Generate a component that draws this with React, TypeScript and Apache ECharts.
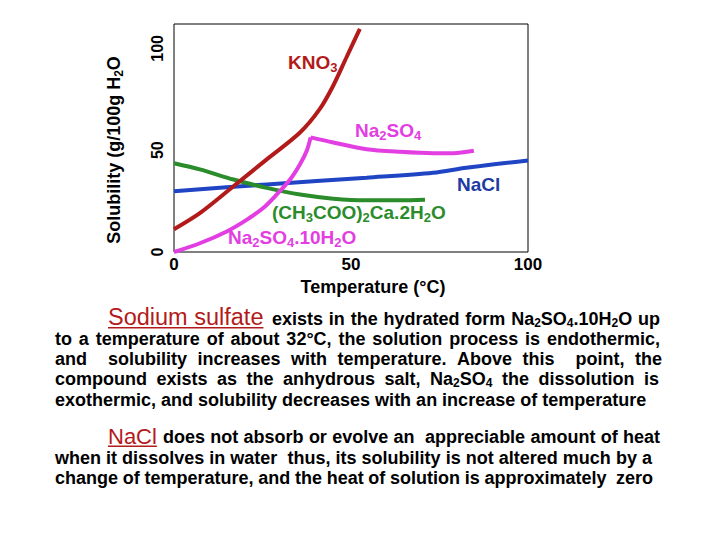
import React, { useEffect, useRef } from 'react';
import * as echarts from 'echarts';

const FONT = '"Liberation Sans", Arial, sans-serif';

// Temperature (°C) / solubility (g per 100 g water)
const kno3X = [0, 7.3, 16.8, 26.2, 35.6, 41.2, 45, 48.8, 52.5];
const kno3Y = [11.2, 19.1, 32.3, 45.5, 58.7, 70.3, 81.8, 95.9, 109.6];

const hydX = [0, 7.3, 14.9, 20.5, 25.2, 29, 32.8, 35.6, 37.5, 38.6];
const hydY = [0, 4.3, 10.1, 15.8, 21.6, 28.2, 35.6, 43.1, 49.7, 56.3];

const anhX = [38.6, 45, 54.4, 63.8, 73.2, 78.9, 84.7];
const anhY = [56.3, 53.8, 50.5, 49.2, 48.5, 48.5, 49.7];

const naclX = [0, 26.2, 54.4, 73.2, 82.6, 100];
const naclY = [29.9, 33.2, 36.5, 38.9, 41.4, 45];

const acetX = [0, 7.3, 16.8, 26.2, 35.6, 45, 54.4, 63.8, 70.9];
const acetY = [43.6, 40.6, 35.6, 31.5, 28.2, 26.2, 25.4, 25.4, 25.7];

const xTickLabels = ['0', '50', '100'];
const yTickLabels = ['0', '50', '100'];

const RED = '#b31b1b';
const MAGENTA = '#e23ee2';
const BLUE = '#1f44c4';
const BLUE_LABEL = '#1d3ba3';
const GREEN = '#2a8c2a';

// Text content ("_" marks a subscript character)
const para1Lead = 'Sodium sulfate';
const para1Lines = [
  'exists in the hydrated form Na_2SO_4.10H_2O up',
  'to a temperature of about 32°C, the solution process is endothermic,',
  'and  solubility increases with temperature. Above this  point, the',
  'compound exists as the anhydrous salt, Na_2SO_4 the dissolution is',
  'exothermic, and solubility decreases with an increase of temperature',
];
const para2Lead = 'NaCl';
const para2Lines = [
  'does not absorb or evolve an  appreciable amount of heat',
  'when it dissolves in water  thus, its solubility is not altered much by a',
  'change of temperature, and the heat of solution is approximately  zero',
];
const chartLabels = ['KNO_3', 'Na_2SO_4', 'NaCl', '(CH_3COO)_2Ca.2H_2O', 'Na_2SO_4.10H_2O'];
const yTitle = 'Solubility (g/100g H_2O';
const xTitle = 'Temperature (°C)';

type Seg = { t: string; sub: boolean };
function parse(s: string): Seg[] {
  const out: Seg[] = [];
  let cur = '';
  for (let i = 0; i < s.length; i++) {
    if (s[i] === '_' && i + 1 < s.length) {
      if (cur) out.push({ t: cur, sub: false });
      cur = '';
      out.push({ t: s[i + 1], sub: true });
      i++;
    } else cur += s[i];
  }
  if (cur) out.push({ t: cur, sub: false });
  return out;
}

export default function App() {
  const ref = useRef<HTMLDivElement>(null);

  useEffect(() => {
    if (!ref.current) return;
    const chart = echarts.init(ref.current, undefined, { renderer: 'svg' });
    const ctx = document.createElement('canvas').getContext('2d')!;

    const segWidth = (t: string, size: number, weight: string) => {
      ctx.font = `${weight} ${size}px ${FONT}`;
      return ctx.measureText(t).width;
    };
    const measure = (s: string, size: number, subSize: number, weight: string) =>
      parse(s).reduce((a, g) => a + segWidth(g.t, g.sub ? subSize : size, weight), 0);

    // Build text elements for a string with subscripts, left-anchored at (x, y middle)
    const segEls = (
      s: string,
      x: number,
      y: number,
      size: number,
      subSize: number,
      weight: string,
      color: string,
      drop: number
    ) => {
      const els: any[] = [];
      let cx = x;
      for (const g of parse(s)) {
        const fs = g.sub ? subSize : size;
        els.push({
          type: 'text',
          x: cx,
          y: g.sub ? y + drop : y,
          silent: true,
          style: {
            text: g.t,
            fontSize: fs,
            fontWeight: weight,
            fontFamily: FONT,
            fill: color,
            align: 'left',
            verticalAlign: 'middle',
          },
        });
        cx += segWidth(g.t, fs, weight);
      }
      return els;
    };

    const graphics: any[] = [];

    const layoutLine = (line: string, x0: number, x1: number | null, y: number) => {
      const size = 18;
      const sub = 12;
      const tokens = line.split(' ');
      const words: { s: string; gap: number; w: number }[] = [];
      let gap = 0;
      for (const t of tokens) {
        if (t === '') {
          gap++;
          continue;
        }
        words.push({ s: t, gap: words.length ? gap + 1 : 0, w: measure(t, size, sub, 'bold') });
        gap = 0;
      }
      const W = words.reduce((a, b) => a + b.w, 0);
      const G = words.reduce((a, b) => a + b.gap, 0);
      const unit = x1 != null && G > 0 ? (x1 - x0 - W) / G : segWidth(' ', size, 'bold');
      let x = x0;
      for (const w of words) {
        x += w.gap * unit;
        graphics.push(...segEls(w.s, x, y, size, sub, 'bold', '#000', 4));
        x += w.w;
      }
    };

    const lead = (s: string, size: number, x: number, yMid: number, yLine: number) => {
      graphics.push({
        type: 'text',
        x,
        y: yMid,
        silent: true,
        style: {
          text: s,
          fontSize: size,
          fontFamily: FONT,
          fill: RED,
          align: 'left',
          verticalAlign: 'middle',
        },
      });
      const w = segWidth(s, size, 'normal');
      graphics.push({
        type: 'rect',
        silent: true,
        shape: { x, y: yLine, width: w, height: 1.6 },
        style: { fill: RED },
      });
    };

    // Paragraph 1
    lead(para1Lead, 23.5, 108, 317, 327);
    const p1Y = [319, 339, 359, 379, 400];
    const p1X0 = [272, 55, 55, 55, 55];
    const p1X1: (number | null)[] = [660, 660, 662, 659, null];
    para1Lines.forEach((l, i) => layoutLine(l, p1X0[i], p1X1[i], p1Y[i]));

    // Paragraph 2
    lead(para2Lead, 22, 108, 436, 445.5);
    const p2Y = [437, 458, 478];
    const p2X0 = [163, 55, 55];
    const p2X1 = [660, 652, 653];
    para2Lines.forEach((l, i) => layoutLine(l, p2X0[i], p2X1[i], p2Y[i]));

    // Curve labels
    const labelPos = [
      [288, 62, RED],
      [355, 130, MAGENTA],
      [457, 184, BLUE_LABEL],
      [272, 212, GREEN],
      [228, 237, MAGENTA],
    ];
    chartLabels.forEach((s, i) => {
      const [x, y, c] = labelPos[i] as [number, number, string];
      graphics.push(...segEls(s, x, y, 19, 13, 'bold', c, 5.5));
    });

    // Axis titles
    const yTitleW = measure(yTitle, 18, 12, 'bold');
    graphics.push({
      type: 'group',
      x: 114,
      y: 150,
      rotation: Math.PI / 2,
      silent: true,
      children: segEls(yTitle, -yTitleW / 2, 0, 18, 12, 'bold', '#000', 5),
    });
    graphics.push({
      type: 'text',
      x: 373,
      y: 287,
      silent: true,
      style: {
        text: xTitle,
        fontSize: 18,
        fontWeight: 'bold',
        fontFamily: FONT,
        fill: '#000',
        align: 'center',
        verticalAlign: 'middle',
      },
    });

    const zip = (xs: number[], ys: number[]) => xs.map((x, i) => [x, ys[i]]);
    const lineSeries = (name: string, xs: number[], ys: number[], color: string) => ({
      name,
      type: 'line',
      data: zip(xs, ys),
      smooth: 0.3,
      showSymbol: false,
      symbol: 'none',
      lineStyle: { color, width: 4 },
      itemStyle: { color },
      z: 3,
    });

    chart.setOption({
      animation: false,
      backgroundColor: '#fff',
      grid: {
        left: 174,
        top: 24,
        width: 354,
        height: 228,
        show: true,
        borderColor: '#000',
        borderWidth: 1,
        backgroundColor: 'transparent',
      },
      xAxis: {
        type: 'value',
        min: 0,
        max: 100,
        interval: 50,
        axisLine: { show: false },
        axisTick: { show: false },
        splitLine: { show: false },
        axisLabel: {
          fontSize: 17,
          fontWeight: 'bold',
          fontFamily: FONT,
          color: '#000',
          margin: 4,
          formatter: (v: number) => (xTickLabels.indexOf(String(v)) >= 0 ? String(v) : ''),
        },
      },
      yAxis: {
        type: 'value',
        min: 0,
        max: 112,
        interval: 50,
        axisLine: { show: false },
        axisTick: { show: false },
        splitLine: { show: false },
        axisLabel: {
          rotate: 90,
          fontSize: 16,
          fontWeight: 'bold',
          fontFamily: FONT,
          color: '#000',
          margin: 9,
          formatter: (v: number) => (yTickLabels.indexOf(String(v)) >= 0 ? String(v) : ''),
        },
      },
      series: [
        lineSeries('NaCl', naclX, naclY, BLUE),
        lineSeries('(CH3COO)2Ca.2H2O', acetX, acetY, GREEN),
        lineSeries('Na2SO4.10H2O', hydX, hydY, MAGENTA),
        lineSeries('Na2SO4', anhX, anhY, MAGENTA),
        lineSeries('KNO3', kno3X, kno3Y, RED),
      ],
      graphic: { elements: graphics },
    });

    return () => chart.dispose();
  }, []);

  return (
    <div
      ref={ref}
      style={{ position: 'fixed', left: 0, top: 0, width: 720, height: 540, background: '#fff' }}
    />
  );
}
